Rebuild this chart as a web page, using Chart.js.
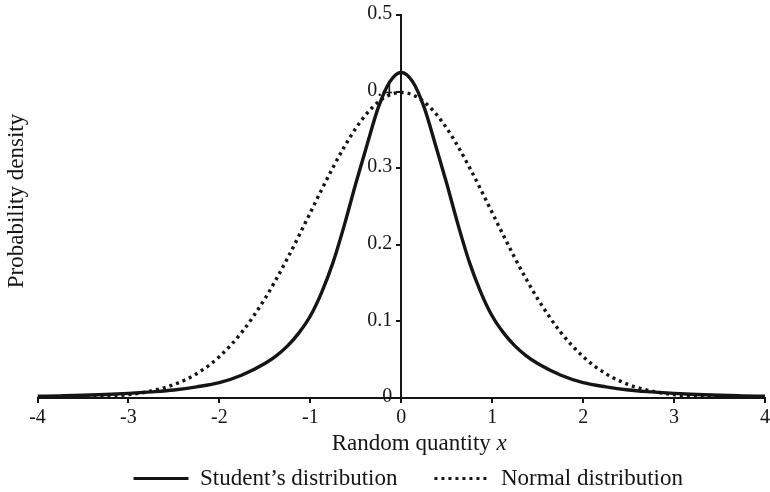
<!DOCTYPE html>
<html>
<head>
<meta charset="utf-8">
<script src="https://cdn.jsdelivr.net/npm/chart.js@4"></script>
<style>
  html, body { margin: 0; padding: 0; background: #fff; overflow: hidden; }
</style>
</head>
<body>
<canvas id="densityChart" width="773" height="492"></canvas>
<script>
// values
const xValues = [-4, -3.75, -3.5, -3.25, -3, -2.75, -2.5, -2.25, -2, -1.75,
  -1.5, -1.375, -1.25, -1.125, -1, -0.875, -0.75, -0.625, -0.5, -0.375, -0.25, -0.125,
  0,
  0.125, 0.25, 0.375, 0.5, 0.625, 0.75, 0.875, 1, 1.125, 1.25, 1.375, 1.5,
  1.75, 2, 2.25, 2.5, 2.75, 3, 3.25, 3.5, 3.75, 4];
const studentDensity = [0.0022, 0.0028, 0.0035, 0.0045, 0.006, 0.008, 0.0105, 0.0145, 0.020, 0.030,
  0.045, 0.055, 0.068, 0.085, 0.107, 0.138, 0.177, 0.226, 0.280, 0.331, 0.380, 0.413,
  0.425,
  0.413, 0.380, 0.331, 0.280, 0.226, 0.177, 0.138, 0.107, 0.085, 0.068, 0.055, 0.045,
  0.030, 0.020, 0.0145, 0.0105, 0.008, 0.006, 0.0045, 0.0035, 0.0028, 0.0022];
const normalDensity = [0.0001, 0.0004, 0.0009, 0.002, 0.0044, 0.0091, 0.0175, 0.0317, 0.054, 0.0863,
  0.1295, 0.1551, 0.1826, 0.2119, 0.242, 0.2721, 0.3011, 0.3282, 0.3521, 0.3719, 0.3867, 0.3958,
  0.3989,
  0.3958, 0.3867, 0.3719, 0.3521, 0.3282, 0.3011, 0.2721, 0.242, 0.2119, 0.1826, 0.1551, 0.1295,
  0.0863, 0.054, 0.0317, 0.0175, 0.0091, 0.0044, 0.002, 0.0009, 0.0004, 0.0001];
const xTickLabels = ['-4', '-3', '-2', '-1', '0', '1', '2', '3', '4'];
const yTickValues = [0, 0.1, 0.2, 0.3, 0.4, 0.5];
const yTickLabels = ['0', '0.1', '0.2', '0.3', '0.4', '0.5'];
const seriesNames = ['Student\u2019s distribution', 'Normal distribution'];

const ink = '#151515';
const serif = '"Liberation Serif", "Times New Roman", serif';
Chart.defaults.font.family = serif;
Chart.defaults.color = ink;

function toPoints(ys) {
  return xValues.map((x, i) => ({ x: x, y: ys[i] }));
}

// y tick labels sit left of the centred axis, under the curves
const yLabels = {
  id: 'yLabels',
  afterLayout(chart) {
    // legend in the reference is a little right of centre
    chart.legend.left += 7;
    chart.legend.right += 7;
  },
  beforeDatasetsDraw(chart) {
    const { ctx, scales } = chart;
    const axisX = scales.x.getPixelForValue(0);
    ctx.save();
    ctx.fillStyle = ink;
    ctx.font = '20px ' + serif;
    ctx.textAlign = 'right';
    ctx.textBaseline = 'middle';
    yTickValues.forEach((v, i) => {
      ctx.fillText(yTickLabels[i], axisX - 9, scales.y.getPixelForValue(v) - 1);
    });
    ctx.restore();
  }
};

// axis titles drawn by hand (italic x, y title at the far left)
const axisTitles = {
  id: 'axisTitles',
  afterDraw(chart) {
    const { ctx, chartArea } = chart;
    ctx.save();
    ctx.fillStyle = ink;
    ctx.textBaseline = 'alphabetic';

    const plain = 'Random quantity ';
    ctx.font = '23px ' + serif;
    const w1 = ctx.measureText(plain).width;
    ctx.font = 'italic 23px ' + serif;
    const w2 = ctx.measureText('x').width;
    const cx = (chartArea.left + chartArea.right) / 2 + 18;
    const x0 = cx - (w1 + w2) / 2;
    ctx.textAlign = 'left';
    ctx.font = '23px ' + serif;
    ctx.fillText(plain, x0, 450);
    ctx.font = 'italic 23px ' + serif;
    ctx.fillText('x', x0 + w1, 450);

    ctx.translate(23, 201);
    ctx.rotate(-Math.PI / 2);
    ctx.textAlign = 'center';
    ctx.font = '23px ' + serif;
    ctx.fillText('Probability density', 0, 0);
    ctx.restore();
  }
};

new Chart(document.getElementById('densityChart'), {
  type: 'line',
  data: {
    datasets: [{
      label: seriesNames[0],
      data: toPoints(studentDensity),
      borderColor: ink,
      borderWidth: 3.4,
      pointRadius: 0,
      cubicInterpolationMode: 'monotone',
      fill: false
    }, {
      label: seriesNames[1],
      data: toPoints(normalDensity),
      borderColor: ink,
      borderWidth: 3.4,
      borderDash: [3, 4],
      borderCapStyle: 'butt',
      pointRadius: 0,
      cubicInterpolationMode: 'monotone',
      fill: false
    }]
  },
  options: {
    responsive: false,
    animation: false,
    layout: { padding: { left: 37.5, right: 5, top: 15, bottom: -8 } },
    plugins: {
      tooltip: { enabled: false },
      legend: {
        position: 'bottom',
        fullSize: false,
        labels: {
          usePointStyle: true,
          pointStyle: 'line',
          pointStyleWidth: 55,
          padding: 37,
          color: ink,
          font: { size: 23 },
          generateLabels(chart) {
            const items = Chart.defaults.plugins.legend.labels.generateLabels(chart);
            return items.map(item => {
              const ds = chart.data.datasets[item.datasetIndex];
              item.lineDash = ds.borderDash || [];
              item.lineWidth = 3;
              item.lineCap = 'butt';
              item.strokeStyle = ink;
              return item;
            });
          }
        }
      }
    },
    scales: {
      x: {
        type: 'linear',
        min: -4,
        max: 4,
        afterFit(scale) { scale.height = 32; },
        border: { display: true, color: ink, width: 2 },
        grid: { drawOnChartArea: false, drawTicks: true, tickLength: 5, color: ink, lineWidth: 2 },
        ticks: {
          stepSize: 1,
          maxRotation: 0,
          autoSkip: false,
          padding: 3,
          color: ink,
          font: { size: 20 },
          callback: (v) => xTickLabels[Math.round(v) + 4]
        }
      },
      y: {
        type: 'linear',
        position: { x: 0 },
        min: 0,
        max: 0.5,
        border: { display: true, color: ink, width: 2 },
        grid: { drawOnChartArea: false, drawTicks: true, tickLength: 4, color: ink, lineWidth: 2 },
        ticks: { stepSize: 0.1, display: false }
      }
    }
  },
  plugins: [yLabels, axisTitles]
});
</script>
</body>
</html>
